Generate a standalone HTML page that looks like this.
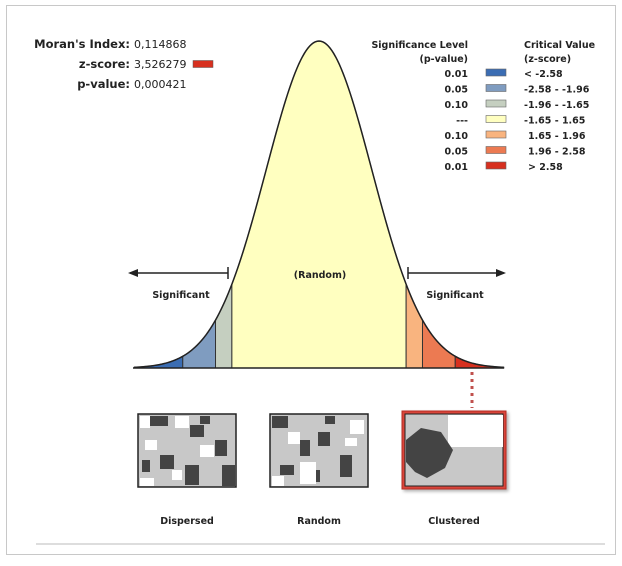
<!DOCTYPE html>
<html><head><meta charset="utf-8"><style>
body{margin:0;background:#fff;width:622px;height:562px;overflow:hidden;font-family:"DejaVu Sans","Liberation Sans",sans-serif}
svg text{font-family:"DejaVu Sans","Liberation Sans",sans-serif}
</style></head><body>
<svg id="chart" width="622" height="562">
<defs><filter id="sh" x="-10%" y="-10%" width="130%" height="130%"><feDropShadow dx="2" dy="2" stdDeviation="1.5" flood-color="#000" flood-opacity="0.3"/></filter></defs>
<rect x="6.5" y="5.5" width="609" height="549" fill="#fff" stroke="#c8c8c8"/>
<line x1="36" y1="544" x2="605" y2="544" stroke="#ddd" stroke-width="2"/>
<g font-size="11.5" fill="#222">
<text x="130" y="48" text-anchor="end" font-weight="bold">Moran's Index:</text>
<text x="134" y="48" font-size="11">0,114868</text>
<text x="130" y="68" text-anchor="end" font-weight="bold">z-score:</text>
<text x="134" y="68" font-size="11">3,526279</text>
<rect x="193" y="60.5" width="20" height="7" fill="#d7301f" stroke="#555" stroke-width="0.5"/>
<text x="130" y="88" text-anchor="end" font-weight="bold">p-value:</text>
<text x="134" y="88" font-size="11">0,000421</text>
</g>
<g id="legend" font-size="9.5" font-weight="bold" fill="#222">
<text x="468" y="48" text-anchor="end">Significance Level</text>
<text x="468" y="62" text-anchor="end">(p-value)</text>
<text x="524" y="48">Critical Value</text>
<text x="524" y="62">(z-score)</text>
</g>
<g id="curve"></g>
<g>
<line x1="130" y1="273" x2="228" y2="273" stroke="#222" stroke-width="1.5"/>
<polygon points="128,273 138,269 138,277" fill="#222"/>
<line x1="228" y1="267" x2="228" y2="279" stroke="#222" stroke-width="1.5"/>
<line x1="408" y1="273" x2="504" y2="273" stroke="#222" stroke-width="1.5"/>
<polygon points="506,273 496,269 496,277" fill="#222"/>
<line x1="408" y1="267" x2="408" y2="279" stroke="#222" stroke-width="1.5"/>
<text x="181" y="298" text-anchor="middle" font-size="9.5" font-weight="bold" fill="#222">Significant</text>
<text x="455" y="298" text-anchor="middle" font-size="9.5" font-weight="bold" fill="#222">Significant</text>
<text x="320" y="278" text-anchor="middle" font-size="9.5" font-weight="bold" fill="#222">(Random)</text>
<line x1="472" y1="372" x2="472" y2="408" stroke="#c0504d" stroke-width="3" stroke-dasharray="3,4"/>
</g>
<g>
<rect x="138" y="414" width="98" height="73" fill="#c8c8c8" stroke="#222" stroke-width="1.5"/>
<path d="M150 416h18v10h-18zM190 425h14v12h-14zM215 440h12v16h-12zM160 455h14v14h-14zM185 465h14v20h-14zM222 465h13v21h-13zM142 460h8v12h-8zM200 416h10v8h-10z" fill="#444"/>
<path d="M140 416h10v12h-10zM175 416h14v12h-14zM145 440h12v10h-12zM200 445h14v12h-14zM172 470h10v10h-10zM140 478h14v8h-14z" fill="#fff"/>
<text x="187" y="524" text-anchor="middle" font-size="9.5" font-weight="bold" fill="#222">Dispersed</text>
</g>
<g>
<rect x="270" y="414" width="98" height="73" fill="#c8c8c8" stroke="#222" stroke-width="1.5"/>
<path d="M272 416h16v12h-16zM300 440h10v16h-10zM318 432h12v14h-12zM340 455h12v22h-12zM280 465h14v10h-14zM325 416h10v8h-10zM310 470h10v12h-10z" fill="#444"/>
<path d="M288 432h12v12h-12zM350 420h14v14h-14zM300 462h16v22h-16zM272 476h12v10h-12zM345 438h12v8h-12z" fill="#fff"/>
<text x="319" y="524" text-anchor="middle" font-size="9.5" font-weight="bold" fill="#222">Random</text>
</g>
<g>
<rect x="402" y="411" width="104" height="78" fill="#d9453a" stroke="#b52a22" stroke-width="1" filter="url(#sh)"/>
<rect x="405" y="414" width="98" height="72" fill="#c8c8c8" stroke="#222" stroke-width="1"/>
<path d="M448 415h55v32h-55z" fill="#fff"/>
<path d="M406 440l15-12 20 4 12 18-8 18-18 10-12-6-9-10z" fill="#444"/>
<text x="454" y="524" text-anchor="middle" font-size="9.5" font-weight="bold" fill="#222">Clustered</text>
</g>
</svg>
<script>
const pLabels=["0.01","0.05","0.10","---","0.10","0.05","0.01"];
const zLabels=["< -2.58","-2.58 - -1.96","-1.96 - -1.65","-1.65 - 1.65","1.65 - 1.96","1.96 - 2.58","> 2.58"];
const binColors=["#3b6db3","#7f9cc0","#c5cfc0","#ffffc0","#f9b47f","#ec7a52","#d7301f"];
const binEdges=[-3.5,-2.58,-1.96,-1.65,1.65,1.96,2.58,3.5];
const NS="http://www.w3.org/2000/svg";
const cx=319,sig=52.8,base=368,peakH=327;
const xs=z=>cx+z*sig, ys=z=>base-peakH*Math.exp(-z*z/2);
const lg=document.getElementById('legend');
pLabels.forEach((p,i)=>{
 const y=77+i*15.5;
 const t=document.createElementNS(NS,'text');t.setAttribute('x',468);t.setAttribute('y',y);t.setAttribute('text-anchor','end');t.textContent=p;
 
 
 lg.appendChild(t);
 const r=document.createElementNS(NS,'rect');r.setAttribute('x',486);r.setAttribute('y',y-8);r.setAttribute('width',20);r.setAttribute('height',7);r.setAttribute('fill',binColors[i]);r.setAttribute('stroke','#666');r.setAttribute('stroke-width','0.6');
 
 
 lg.appendChild(r);
 const z=document.createElementNS(NS,'text');z.setAttribute('x',i>=4?528:524);z.setAttribute('y',y);z.textContent=zLabels[i];
 
 
 lg.appendChild(z);
});
const g=document.getElementById('curve');
for(let i=0;i<7;i++){
 const a=binEdges[i],b=binEdges[i+1];let d=`M${xs(a)} ${base}`;
 for(let k=0;k<=40;k++){const z=a+(b-a)*k/40;d+=` L${xs(z)} ${ys(z)}`;}
 d+=` L${xs(b)} ${base}Z`;
 const p=document.createElementNS(NS,'path');p.setAttribute('d',d);p.setAttribute('fill',binColors[i]);p.setAttribute('stroke','#333');p.setAttribute('stroke-width','1');
 
 
 g.appendChild(p);
}
let d='';for(let k=0;k<=200;k++){const z=-3.5+7*k/200;d+=(k?' L':'M')+xs(z)+' '+ys(z);}
const o=document.createElementNS(NS,'path');o.setAttribute('d',d);o.setAttribute('fill','none');o.setAttribute('stroke','#222');o.setAttribute('stroke-width','1.5');


g.appendChild(o);
const bl=document.createElementNS(NS,'line');bl.setAttribute('x1',133);bl.setAttribute('x2',504);bl.setAttribute('y1',base);bl.setAttribute('y2',base);bl.setAttribute('stroke','#222');bl.setAttribute('stroke-width','1.5');


g.appendChild(bl);
</script>
</body></html>
